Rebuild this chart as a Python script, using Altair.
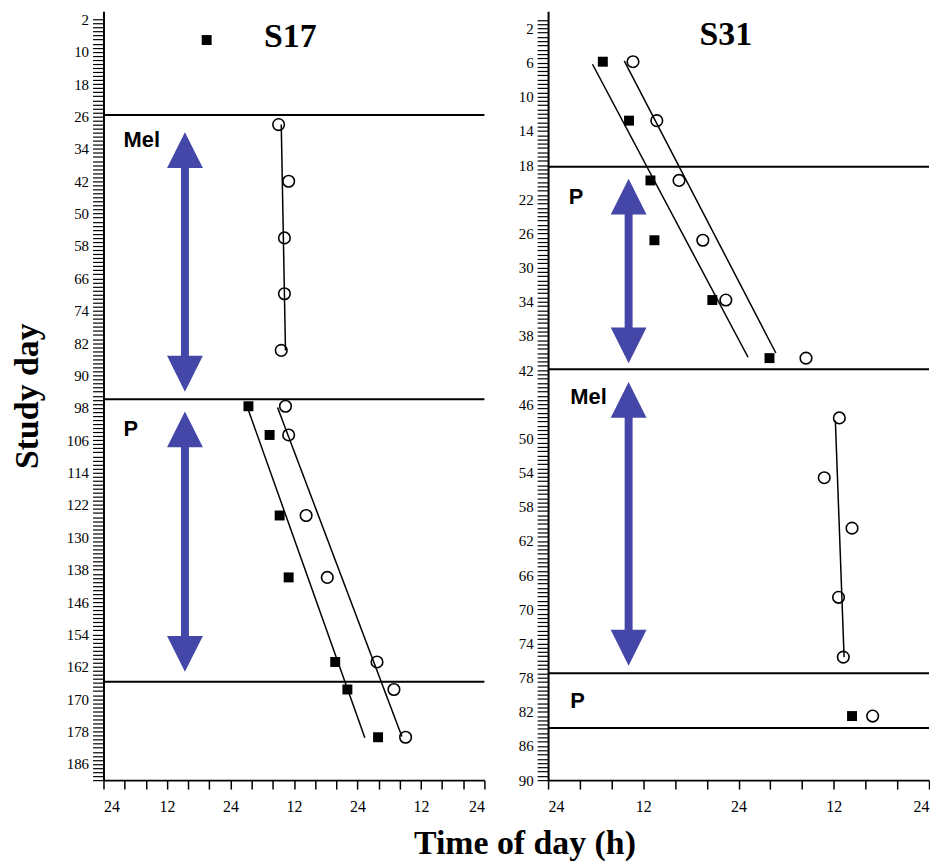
import altair as alt
import pandas as pd

# ---------------- S17 panel data ----------------
s17_sep_days = [25.6, 95.9, 165.7]
s17_sq_day = [7.1, 97.6, 104.7, 124.6, 139.9, 160.8, 167.6, 179.4]
s17_sq_h = [19.5, 27.4, 31.4, 33.3, 35.0, 43.8, 46.1, 51.9]
s17_ci_day = [28.0, 42.0, 56.0, 69.8, 83.8, 97.6, 104.7, 124.6, 139.9, 160.8, 167.6, 179.4]
s17_ci_h = [33.1, 35.0, 34.2, 34.2, 33.6, 34.4, 35.0, 38.3, 42.3, 51.7, 54.9, 57.1]
s17_fit_id = ["mel", "mel", "pf", "pf", "po", "po"]
s17_fit_day = [28.0, 83.8, 98.6, 179.5, 97.9, 179.2]
s17_fit_h = [33.6, 34.4, 27.4, 49.4, 32.9, 56.4]
s17_arrow_top = [29.9, 98.9]
s17_arrow_bot = [94.0, 163.2]
s17_arrow_h = [15.4, 15.4]
s17_text = ["Mel", "P"]
s17_text_h = [3.8, 3.8]
s17_text_day = [31.8, 103.3]
s17_title = ["S17"]
s17_title_h = [35.3]
s17_title_day = [6.4]

# ---------------- S31 panel data ----------------
s31_sep_days = [18.2, 41.9, 77.5, 83.9]
s31_sq_day = [5.9, 12.8, 19.8, 26.8, 33.8, 40.6, 82.5]
s31_sq_h = [6.9, 10.2, 12.9, 13.4, 20.7, 27.9, 38.3]
s31_ci_day = [5.9, 12.8, 19.8, 26.8, 33.8, 40.6, 47.6, 54.6, 60.5, 68.6, 75.6, 82.5]
s31_ci_h = [10.7, 13.7, 16.5, 19.5, 22.4, 32.5, 36.7, 34.8, 38.3, 36.6, 37.2, 40.9]
s31_fit_id = ["pf", "pf", "po", "po", "mel", "mel"]
s31_fit_day = [6.2, 40.5, 5.8, 40.0, 47.9, 75.6]
s31_fit_h = [5.6, 25.2, 9.6, 28.7, 36.2, 37.3]
s31_arrow_top = [19.6, 43.4]
s31_arrow_bot = [41.2, 76.6]
s31_arrow_h = [10.15, 10.15]
s31_text = ["P", "Mel", "P"]
s31_text_h = [2.6, 2.8, 2.8]
s31_text_day = [21.7, 45.2, 80.7]
s31_title = ["S31"]
s31_title_h = [22.4]
s31_title_day = [2.8]

# y-axis tick positions (days) and x-axis tick positions (hours)
s17_ytick_days = list(range(2, 191))
s31_ytick_days = [i * 0.5 for i in range(2, 181)]
s17_xtick_hours = list(range(0, 73, 4))
s31_xtick_hours = list(range(0, 49, 4))

BLUE = "#4447A8"
SERIF = "Liberation Serif"
SANS = "Liberation Sans"


def panel(maxh, maxday, xvals, yvals, ymod, sep, sqd, sqh, cid, cih, fid, fday, fh,
          atop, abot, ah, txt, txh, txd, ttl, tth, ttd, ytitle):
    x_axis = alt.Axis(
        values=xvals,
        labelExpr="datum.value % 24 == 0 ? '24' : (datum.value % 12 == 0 ? '12' : '')",
        tickSize=9,
        tickColor="black", tickWidth=1.5, domainColor="black", domainWidth=2,
        labelFont=SERIF, labelFontSize=16, labelColor="black", labelPadding=10,
        labelOverlap=False, grid=False, title=None,
    )
    ytest = "(datum.value - 2) % " + str(ymod) + " == 0"
    y_axis_kwargs = dict(
        values=yvals,
        labelExpr=ytest + " ? '' + datum.value : ''",
        tickSize=11,
        tickColor="black", tickWidth=1.2, domainColor="black", domainWidth=2,
        labelFont=SERIF, labelFontSize=15, labelColor="black", labelPadding=4,
        labelOverlap=False, grid=False,
    )
    if ytitle:
        y_axis = alt.Axis(title=ytitle, titleFont=SERIF, titleFontSize=34,
                          titleFontWeight="bold", titleColor="black",
                          titlePadding=22, **y_axis_kwargs)
    else:
        y_axis = alt.Axis(title=None, **y_axis_kwargs)

    xs = alt.Scale(domain=[0, maxh], nice=False, zero=False)
    ys = alt.Scale(domain=[0, maxday], nice=False, zero=False, reverse=True)
    X = alt.X("h:Q", scale=xs, axis=x_axis)
    Y = alt.Y("day:Q", scale=ys, axis=y_axis)
    Y2 = alt.Y("day2:Q", scale=ys, axis=y_axis)

    sep_df = pd.DataFrame({"day": sep})
    sq_df = pd.DataFrame({"h": sqh, "day": sqd})
    ci_df = pd.DataFrame({"h": cih, "day": cid})
    fit_df = pd.DataFrame({"id": fid, "h": fh, "day": fday})
    arr_df = pd.DataFrame({"h": ah, "day": atop, "day2": abot})
    txt_df = pd.DataFrame({"t": txt, "h": txh, "day": txd})
    ttl_df = pd.DataFrame({"t": ttl, "h": tth, "day": ttd})

    seps = alt.Chart(sep_df).mark_rule(color="black", strokeWidth=2).encode(y=Y)
    fits = alt.Chart(fit_df).mark_line(color="black", strokeWidth=1.5).encode(
        x=X, y=Y, detail="id:N")
    sqs = alt.Chart(sq_df).mark_point(shape="square", filled=True, size=100,
                                      color="black", opacity=1).encode(x=X, y=Y)
    cis = alt.Chart(ci_df).mark_point(shape="circle", filled=False, size=135,
                                      color="black", strokeWidth=1.6,
                                      opacity=1).encode(x=X, y=Y)
    shaft = alt.Chart(arr_df).mark_rule(
        color=BLUE, strokeWidth=8, yOffset=25, y2Offset=-25).encode(
        x=X, y=Y, y2="day2:Q")
    head_up = alt.Chart(arr_df).mark_point(
        shape="M0,0L1,2L-1,2Z", size=1296, filled=True, color=BLUE,
        opacity=1, strokeWidth=0).encode(x=X, y=Y)
    head_dn = alt.Chart(arr_df).mark_point(
        shape="M0,0L1,-2L-1,-2Z", size=1296, filled=True, color=BLUE,
        opacity=1, strokeWidth=0).encode(x=X, y=Y2)
    labels = alt.Chart(txt_df).mark_text(
        font=SANS, fontSize=22, fontWeight="bold", align="left",
        baseline="middle", color="black").encode(x=X, y=Y, text="t:N")
    title = alt.Chart(ttl_df).mark_text(
        font=SERIF, fontSize=34, fontWeight="bold", align="center",
        baseline="middle", color="black").encode(x=X, y=Y, text="t:N")

    return alt.layer(seps, fits, shaft, head_up, head_dn, sqs, cis, labels,
                     title).properties(width=383, height=773)


p17 = panel(72, 190, s17_xtick_hours, s17_ytick_days, 8, s17_sep_days, s17_sq_day,
            s17_sq_h, s17_ci_day, s17_ci_h, s17_fit_id, s17_fit_day, s17_fit_h,
            s17_arrow_top, s17_arrow_bot, s17_arrow_h, s17_text, s17_text_h,
            s17_text_day, s17_title, s17_title_h, s17_title_day, "Study day")
p31 = panel(48, 90, s31_xtick_hours, s31_ytick_days, 4, s31_sep_days, s31_sq_day,
            s31_sq_h, s31_ci_day, s31_ci_h, s31_fit_id, s31_fit_day, s31_fit_h,
            s31_arrow_top, s31_arrow_bot, s31_arrow_h, s31_text, s31_text_h,
            s31_text_day, s31_title, s31_title_h, s31_title_day, None)

chart = alt.hconcat(p17, p31, spacing=33).properties(
    title=alt.TitleParams("Time of day (h)", orient="bottom", anchor="middle",
                          font=SERIF, fontSize=34, fontWeight="bold",
                          color="black", dx=55, offset=12),
    padding={"left": 2, "top": 1, "right": 0, "bottom": 0},
).configure_view(stroke=None)

chart.save("out.html", embed_options={"renderer": "svg", "actions": False})
